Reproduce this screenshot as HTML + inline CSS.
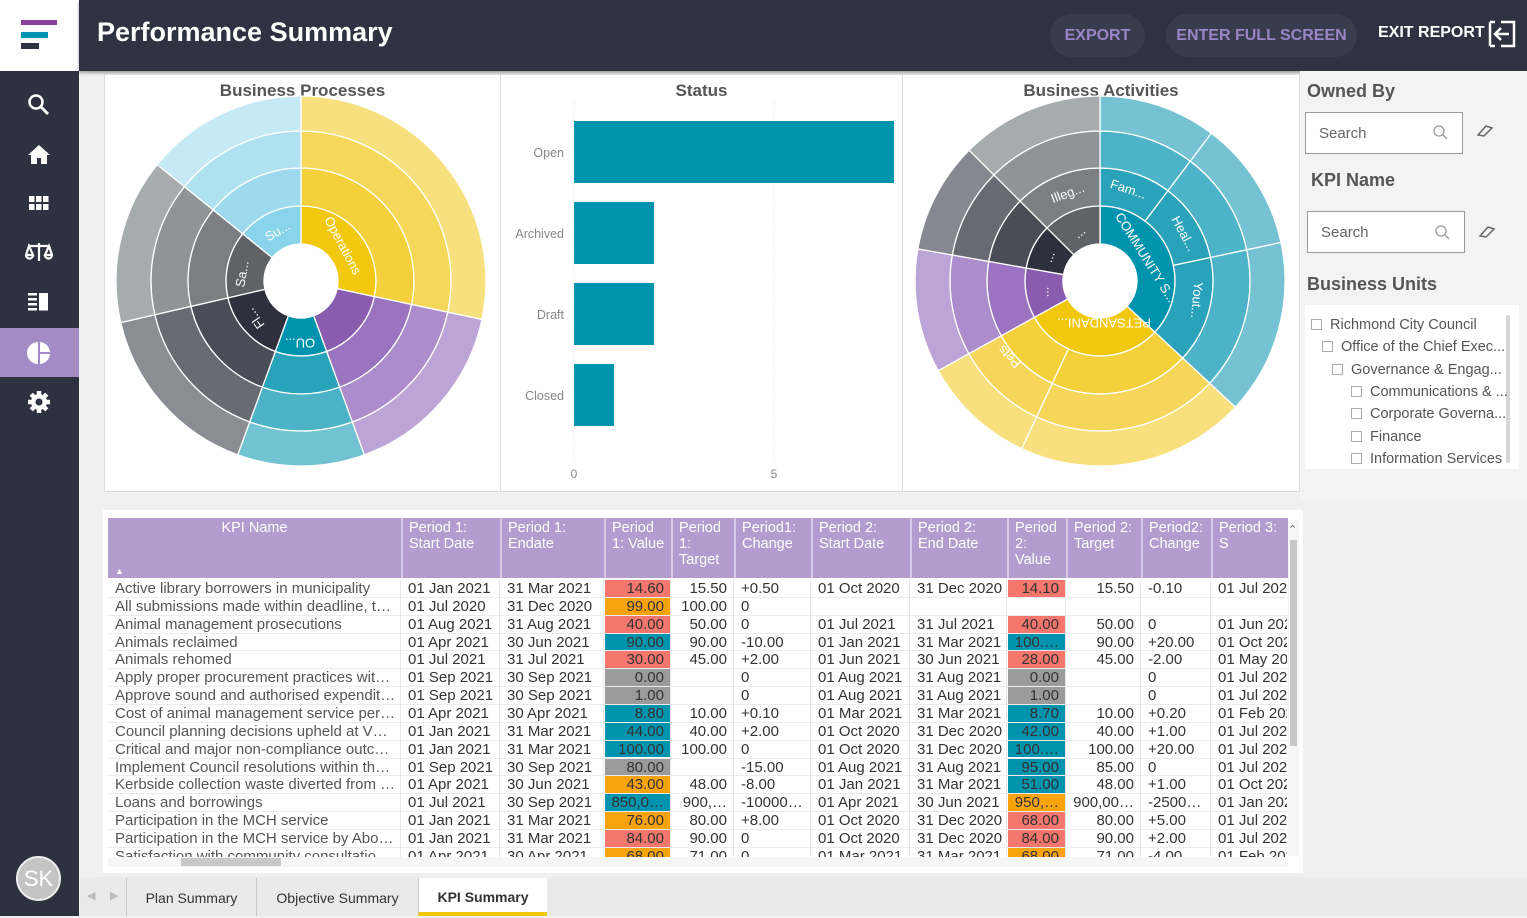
<!DOCTYPE html>
<html><head><meta charset="utf-8">
<style>
*{box-sizing:border-box;margin:0;padding:0}
body{width:1527px;height:916px;overflow:hidden;background:#f0f0f0;font-family:"Liberation Sans",Arial,sans-serif;position:relative}
.abs{position:absolute}
#hdr{left:79px;top:0;width:1448px;height:71px;background:#2f3240;box-shadow:0 2px 3px rgba(0,0,0,.35)}
#logo{left:0;top:0;width:79px;height:71px;background:#fff}
#side{left:0;top:71px;width:79px;height:845px;background:#2e3140}
.pill{position:absolute;top:14px;height:43px;border-radius:22px;background:#393c4d;color:#9a86c6;font-weight:bold;font-size:16px;line-height:43px;text-align:center}
.panel{position:absolute;top:74px;height:418px;background:#fff;border:1px solid #dcdcdc}
.ptitle{position:absolute;top:6px;width:100%;text-align:center;font-weight:bold;font-size:17px;color:#555}
.fh{position:absolute;font-weight:bold;font-size:18px;color:#555}
.sbox{position:absolute;width:158px;height:42px;border:1px solid #999;background:#fff;font-size:15px;color:#666;padding:12px 0 0 13px}
.tree{position:absolute;font-size:14.5px;color:#555;white-space:nowrap}
.cb{display:inline-block;width:11px;height:11px;border:1px solid #aaa;margin-right:8px;vertical-align:-1px}
.cell{position:absolute;font-size:15px;color:#333;white-space:nowrap;overflow:hidden;line-height:17px}
.hc{position:absolute;color:#fff;font-size:14.5px;line-height:16px;padding:2px 0 0 6px}
.tab{position:absolute;top:878px;height:38px;font-size:14px;color:#333;line-height:40px;text-align:center;border-left:1px solid #c8c8c8}
</style></head><body>
<div id="logo" class="abs">
 <div class="abs" style="left:21px;top:20px;width:36px;height:5px;background:#8a3f9a"></div>
 <div class="abs" style="left:21px;top:32px;width:27px;height:6px;background:#0093ae"></div>
 <div class="abs" style="left:21px;top:43px;width:18px;height:6px;background:#2e3140"></div>
</div>
<div id="hdr" class="abs">
 <div class="abs" style="left:18px;top:17px;color:#fff;font-size:27px;font-weight:bold">Performance Summary</div>
 <div class="pill" style="left:971px;width:95px">EXPORT</div>
 <div class="pill" style="left:1087px;width:191px">ENTER FULL SCREEN</div>
 <div class="abs" style="left:1299px;top:24px;color:#fff;font-weight:bold;font-size:16px">EXIT REPORT</div>
 <svg class="abs" style="left:1408px;top:19px" width="30" height="30"><path d="M14 3H27V27H14M3 3V27" fill="none" stroke="#fff" stroke-width="2.5"/><path d="M3 3H8M3 27H8" stroke="#fff" stroke-width="2.5"/><path d="M22 15H8M14 9L8 15L14 21" fill="none" stroke="#fff" stroke-width="2.5"/></svg>
</div>
<div id="side" class="abs">
 <svg class="abs" style="left:27px;top:22px" width="24" height="24"><circle cx="9" cy="9" r="6.5" fill="none" stroke="#fff" stroke-width="2.5"/><path d="M14 14L21 21" stroke="#fff" stroke-width="3"/></svg>
 <svg class="abs" style="left:27px;top:72px" width="24" height="24"><path d="M12 2L1 12H4V21H10V15H14V21H20V12H23Z" fill="#fff"/></svg>
 <svg class="abs" style="left:29px;top:123px" width="22" height="20"><g fill="#fff"><rect x="0" y="2" width="5.5" height="6"/><rect x="7" y="2" width="5.5" height="6"/><rect x="14" y="2" width="5.5" height="6"/><rect x="0" y="10" width="5.5" height="6"/><rect x="7" y="10" width="5.5" height="6"/><rect x="14" y="10" width="5.5" height="6"/></g></svg>
 <svg class="abs" style="left:25px;top:170px" width="28" height="24"><g fill="none" stroke="#fff" stroke-width="2.2"><path d="M14 2V20M4 5H24M4 5L1 14H8ZM24 5L20 14H27Z"/><path d="M1 14A3.5 3.5 0 0 0 8 14M20 14A3.5 3.5 0 0 0 27 14"/></g></svg>
 <svg class="abs" style="left:28px;top:221px" width="22" height="20"><g fill="#fff"><rect x="0" y="1" width="9" height="2.5"/><rect x="0" y="6" width="9" height="2.5"/><rect x="0" y="11" width="9" height="2.5"/><rect x="0" y="16" width="9" height="2.5"/><rect x="11" y="1" width="9" height="17.5"/></g></svg>
 <div class="abs" style="left:0;top:257px;width:79px;height:49px;background:#a38cc6">
  <svg class="abs" style="left:27px;top:13px" width="24" height="24"><path d="M11 1A11 11 0 0 0 11 23Z" fill="#fff"/><path d="M13 1A11 11 0 0 1 23 11H13Z" fill="#fff"/><path d="M13 13H23A11 11 0 0 1 13 23Z" fill="#fff"/></svg>
 </div>
 <svg class="abs" style="left:27px;top:319px" width="24" height="24"><circle cx="12" cy="12" r="8" fill="#fff"/><g stroke="#fff" stroke-width="4.5"><path d="M12 1V23M1 12H23M4.2 4.2L19.8 19.8M19.8 4.2L4.2 19.8"/></g><circle cx="12" cy="12" r="3.5" fill="#2e3140"/></svg>
 <div class="abs" style="left:16px;top:785px;width:45px;height:45px;border-radius:50%;background:#c4c4c4;border:2px solid #eee;color:#fff;font-size:22px;text-align:center;line-height:41px">SK</div>
</div>

<div class="panel" style="left:104px;width:397px">
 <div class="ptitle">Business Processes</div>
</div>
<div class="panel" style="left:500px;width:403px">
 <div class="ptitle">Status</div>
</div>
<div class="panel" style="left:902px;width:398px">
 <div class="ptitle">Business Activities</div>
</div>
<svg id="charts" class="abs" style="left:0;top:0" width="1527" height="500"></svg>

<div class="abs" style="left:1300px;top:71px;width:227px;height:430px;background:#f3f3f3">
 <div class="fh" style="left:7px;top:10px">Owned By</div>
 <div class="sbox" style="left:5px;top:41px">Search</div>
 <div class="fh" style="left:11px;top:99px">KPI Name</div>
 <div class="sbox" style="left:7px;top:140px">Search</div>
 <div class="fh" style="left:7px;top:203px">Business Units</div>
 <div class="abs" style="left:5px;top:234px;width:214px;height:164px;background:#fff"></div>
 <div class="abs" style="left:206px;top:244px;width:4px;height:148px;background:#d6d6d6;border-radius:2px"></div>
 <div class="tree" style="left:11px;top:246px"><span class="cb"></span>Richmond City Council</div>
 <div class="tree" style="left:22px;top:268px"><span class="cb"></span>Office of the Chief Exec...</div>
 <div class="tree" style="left:32px;top:291px"><span class="cb"></span>Governance &amp; Engag...</div>
 <div class="tree" style="left:51px;top:313px"><span class="cb"></span>Communications &amp; ...</div>
 <div class="tree" style="left:51px;top:335px"><span class="cb"></span>Corporate Governa...</div>
 <div class="tree" style="left:51px;top:358px"><span class="cb"></span>Finance</div>
 <div class="tree" style="left:51px;top:380px"><span class="cb"></span>Information Services</div>
</div>
<svg class="abs" style="left:0;top:0" width="1527" height="300" pointer-events="none">
 <g><circle cx="1439" cy="131" r="5" fill="none" stroke="#999" stroke-width="1.3"/><path d="M1443 135L1447 139" stroke="#999" stroke-width="1.3"/></g>
 <g><circle cx="1441" cy="231" r="5" fill="none" stroke="#999" stroke-width="1.3"/><path d="M1445 235L1449 239" stroke="#999" stroke-width="1.3"/></g>
 <path d="M1478 135L1486 126L1492 128L1484 136Z" fill="none" stroke="#666" stroke-width="1.5"/>
 <path d="M1480 236L1488 227L1494 229L1486 237Z" fill="none" stroke="#666" stroke-width="1.5"/>
</svg>

<div class="abs" style="left:103px;top:510px;width:1200px;height:363px;background:#fff"></div>
<div id="tbl" class="abs" style="left:0;top:0;width:1527px;height:860px;overflow:hidden"></div>
<div class="abs" style="left:1288px;top:520px;width:11px;height:336px;background:#f6f6f6"><div class="abs" style="left:2px;top:20px;width:7px;height:206px;background:#c8c8c8"></div></div>
<div class="abs" style="left:1288px;top:523px;font-size:11px;color:#666">&#8963;</div>
<div class="abs" style="left:108px;top:857px;width:1180px;height:10px;background:#f6f6f6"><div class="abs" style="left:73px;top:1px;width:100px;height:8px;background:#c8c8c8"></div></div>

<div class="abs" style="left:80px;top:877px;width:1447px;height:39px;background:#eaeaea"></div>
<div class="abs" style="left:87px;top:889px;color:#bbb;font-size:11px">&#9664;</div>
<div class="abs" style="left:110px;top:889px;color:#bbb;font-size:11px">&#9654;</div>
<div class="tab" style="left:126px;width:130px">Plan Summary</div>
<div class="tab" style="left:256px;width:162px">Objective Summary</div>
<div class="tab" style="left:418px;width:129px;background:#fff;border-bottom:4px solid #f2c80f;font-weight:bold;line-height:38px">KPI Summary</div>

<script>
const NS='http://www.w3.org/2000/svg';
const svg=document.getElementById('charts');
function mk(t,a,p){const e=document.createElementNS(NS,t);for(const k in a)e.setAttribute(k,a[k]);(p||svg).appendChild(e);return e;}

// ---------- Status bar chart data ----------
const statusCats=['Open','Archived','Draft','Closed'];
const statusVals=[8,2,2,1];
const statusTicks=[0,5];
const sx=v=>574+v*40;
const sy=i=>121+i*81;
statusTicks.forEach(t=>{
 const l=mk('line',{x1:sx(t),x2:sx(t),y1:100,y2:462,stroke:'#e4e4e4','stroke-dasharray':'1,2'});
 
 
 const tx=mk('text',{x:sx(t),y:478,'text-anchor':'middle','font-size':12,fill:'#888'});
 tx.textContent=t;
 
 
});
statusCats.forEach((c,i)=>{
 const r=mk('rect',{x:sx(0),y:sy(i),width:sx(statusVals[i])-sx(0),height:62,fill:'#0093ae'});
 
 
 const t=mk('text',{x:564,y:sy(i)+36,'text-anchor':'end','font-size':12.5,fill:'#888'});
 t.textContent=c;
 
 
});

// ---------- Sunburst data ----------
const radii=[37,75,113,150,185];
const bpGroups=['Operations','OU','Teal','Fl','Sa','Su'];
const bpAngles=[102,58,40,57,52,51];
const bpPalettes=[
 ['#f2c80f','#f4d03c','#f5d85a','#f7e07e'],
 ['#8a5cb0','#9b74bf','#ac8ccb','#bca4d6'],
 ['#0093ae','#28a3ba','#4cb3c7','#72c3d2'],
 ['#2e313d','#4a4d57','#686b73','#8a8d93'],
 ['#5f6368','#7a7f83','#8f9597','#a6abad'],
 ['#8ad4eb','#9ddaee','#b0e1f1','#c5e9f5']];
const baGroups=['Community','Pets','Purple','Dark'];
const baSplits=[[37,41,55],[72,36],[39],[35,45]];
const baPalettes=[
 ['#0093ae','#2aa3ba','#4db3c8','#74c2d2'],
 ['#f2c80f','#f4d03a','#f5d65a','#f7e07d'],
 ['#8a5cb0','#9b73c0','#ac8ccb','#bda4d6'],
 ['#2e313d','#4a4d56','#676a72','#858890']];
const baDarkAlt=['#5f6368','#7a7f82','#8e9497','#a6abad'];

function arc(cx,cy,r0,r1,a0,a1){
 const p=(r,a)=>[cx+r*Math.sin(a*Math.PI/180),cy-r*Math.cos(a*Math.PI/180)];
 const L=(a1-a0)>180?1:0;
 const [x0,y0]=p(r1,a0),[x1,y1]=p(r1,a1),[x2,y2]=p(r0,a1),[x3,y3]=p(r0,a0);
 return `M${x0} ${y0}A${r1} ${r1} 0 ${L} 1 ${x1} ${y1}L${x2} ${y2}A${r0} ${r0} 0 ${L} 0 ${x3} ${y3}Z`;
}
// Business Processes
let a=0;
bpGroups.forEach((g,gi)=>{
 for(let ring=0;ring<4;ring++){
  const s=mk('path',{d:arc(301,281,radii[ring],radii[ring+1],a,a+bpAngles[gi]),fill:bpPalettes[gi][ring],stroke:'#fff','stroke-width':1.3});
  
  
 }
 a+=bpAngles[gi];
});
// Business Activities
a=0;
baGroups.forEach((g,gi)=>{
 const tot=baSplits[gi].reduce((x,y)=>x+y,0);
 for(let ring=0;ring<4;ring++){
  if(ring===0){
   const s=mk('path',{d:arc(1100,281,radii[0],radii[1],a,a+tot),fill:baPalettes[gi][0],stroke:'#fff','stroke-width':1.3});
   
   
  } else {
   let b=a;
   baSplits[gi].forEach((v,si)=>{
    const col=(gi===3&&si===1)?baDarkAlt[ring]:baPalettes[gi][ring];
    const s=mk('path',{d:arc(1100,281,radii[ring],radii[ring+1],b,b+v),fill:col,stroke:'#fff','stroke-width':1.3});
    
    
    b+=v;
   });
  }
 }
 a+=tot;
});
// Dark group inner split color
(function(){const s=mk('path',{d:arc(1100,281,radii[0],radii[1],315,360),fill:'#5f6368',stroke:'#fff','stroke-width':1.3});
 
 })();

const sbLabels=[
 ['Operations',342,246,62],['Su...',278,232,-30],['Sa...',243,274,-80],['Fl...',256,318,-125],['OU...',300,342,180],
 ['Fam...',1128,190,18],['Heal...',1183,234,62],['Yout...',1196,300,95],['COMMUNITY S...',1145,258,58],
 ['PETSANDANI...',1104,322,180],['Pets',1010,356,225],['Illeg...',1068,194,-20],['...',1080,233,-40],['...',1050,257,-70],['...',1045,292,-90]];
sbLabels.forEach(l=>{
 const t=mk('text',{x:l[1],y:l[2],'font-size':13,fill:'#fff','text-anchor':'middle','dominant-baseline':'middle',transform:`rotate(${l[3]} ${l[1]} ${l[2]})`});
 t.textContent=l[0];
 
 
});

// ---------- Table ----------
const colX=[108,401,500,604,671,734,811,910,1007,1066,1141,1211,1288];
const headers=['KPI Name','Period 1:<br>Start Date','Period 1:<br>Endate','Period<br>1: Value','Period<br>1:<br>Target','Period1:<br>Change','Period 2:<br>Start Date','Period 2:<br>End Date','Period<br>2:<br>Value','Period 2:<br>Target','Period2:<br>Change','Period 3: S'];
const kpiNames=['Active library borrowers in municipality','All submissions made within deadline, t…','Animal management prosecutions','Animals reclaimed','Animals rehomed','Apply proper procurement practices wit…','Approve sound and authorised expendit…','Cost of animal management service per…','Council planning decisions upheld at V…','Critical and major non-compliance outc…','Implement Council resolutions within th…','Kerbside collection waste diverted from …','Loans and borrowings','Participation in the MCH service','Participation in the MCH service by Abo…','Satisfaction with community consultatio…'];
const p1Start=['01 Jan 2021','01 Jul 2020','01 Aug 2021','01 Apr 2021','01 Jul 2021','01 Sep 2021','01 Sep 2021','01 Apr 2021','01 Jan 2021','01 Jan 2021','01 Sep 2021','01 Apr 2021','01 Jul 2021','01 Jan 2021','01 Jan 2021','01 Apr 2021'];
const p1End=['31 Mar 2021','31 Dec 2020','31 Aug 2021','30 Jun 2021','31 Jul 2021','30 Sep 2021','30 Sep 2021','30 Apr 2021','31 Mar 2021','31 Mar 2021','30 Sep 2021','30 Jun 2021','30 Sep 2021','31 Mar 2021','31 Mar 2021','30 Apr 2021'];
const p1Value=['14.60','99.00','40.00','90.00','30.00','0.00','1.00','8.80','44.00','100.00','80.00','43.00','850,0…','76.00','84.00','68.00'];
const p1Status=['r','o','r','t','r','g','g','t','t','t','g','o','t','o','r','o'];
const p1Target=['15.50','100.00','50.00','90.00','45.00','','','10.00','40.00','100.00','','48.00','900,…','80.00','90.00','71.00'];
const p1Change=['+0.50','0','0','-10.00','+2.00','0','0','+0.10','+2.00','0','-15.00','-8.00','-10000…','+8.00','0','0'];
const p2Start=['01 Oct 2020','','01 Jul 2021','01 Jan 2021','01 Jun 2021','01 Aug 2021','01 Aug 2021','01 Mar 2021','01 Oct 2020','01 Oct 2020','01 Aug 2021','01 Jan 2021','01 Apr 2021','01 Oct 2020','01 Oct 2020','01 Mar 2021'];
const p2End=['31 Dec 2020','','31 Jul 2021','31 Mar 2021','30 Jun 2021','31 Aug 2021','31 Aug 2021','31 Mar 2021','31 Dec 2020','31 Dec 2020','31 Aug 2021','31 Mar 2021','30 Jun 2021','31 Dec 2020','31 Dec 2020','31 Mar 2021'];
const p2Value=['14.10','','40.00','100.…','28.00','0.00','1.00','8.70','42.00','100.…','95.00','51.00','950,…','68.00','84.00','68.00'];
const p2Status=['r','','r','t','r','g','g','t','t','t','t','t','o','r','r','o'];
const p2Target=['15.50','','50.00','90.00','45.00','','','10.00','40.00','100.00','85.00','48.00','900,00…','80.00','90.00','71.00'];
const p2Change=['-0.10','','0','+20.00','-2.00','0','0','+0.20','+1.00','+20.00','0','+1.00','-2500…','+5.00','+2.00','-4.00'];
const p3Start=['01 Jul 2020','','01 Jun 2021','01 Oct 2020','01 May 2021','01 Jul 2021','01 Jul 2021','01 Feb 2021','01 Jul 2020','01 Jul 2020','01 Jul 2021','01 Oct 2020','01 Jan 2021','01 Jul 2020','01 Jul 2020','01 Feb 2021'];
const statusColor={r:'#f4766c',o:'#f8a30b',t:'#0093ae',g:'#9b9b9b'};

const tbl=document.getElementById('tbl');
const hb=document.createElement('div');
hb.className='abs';hb.style.cssText='left:108px;top:518px;width:1180px;height:60px;background:#b39dcf';


tbl.appendChild(hb);
headers.forEach((h,i)=>{
 const d=document.createElement('div');d.className='hc';
 d.style.left=colX[i]+'px';d.style.top='518px';d.style.width=(colX[i+1]-colX[i])+'px';d.style.height='60px';
 d.style.borderLeft=i?'2px solid #d6cbe6':'none';d.style.overflow='hidden';
 if(i===0){d.style.textAlign='center';d.style.paddingLeft='0';}
 d.innerHTML=h;
 
 
 tbl.appendChild(d);
});
const arrow=document.createElement('div');arrow.className='abs';arrow.style.cssText='left:115px;top:566px;color:#fff;font-size:9px';arrow.textContent='▲';


tbl.appendChild(arrow);

const cols=[kpiNames,p1Start,p1End,p1Value,p1Target,p1Change,p2Start,p2End,p2Value,p2Target,p2Change,p3Start];
const rightAlign=[3,4,8,9];
const rowH=17.85;
kpiNames.forEach((n,r)=>{
 const top=580+r*rowH;
 const line=document.createElement('div');line.className='abs';
 line.style.cssText=`left:108px;top:${top+rowH-1}px;width:1180px;height:1px;background:#ececec`;
 tbl.appendChild(line);
 cols.forEach((col,c)=>{
  const d=document.createElement('div');d.className='cell';
  const w=colX[c+1]-colX[c];
  d.style.left=(colX[c]+1)+'px';d.style.top=(top)+'px';d.style.width=(w-2)+'px';d.style.height=(rowH-1)+'px';
  d.style.padding=rightAlign.includes(c)?'0 6px 0 0':'0 0 0 6px';
  if(rightAlign.includes(c))d.style.textAlign='right';
  if(c===3&&p1Status[r]){d.style.background=statusColor[p1Status[r]];}
  if(c===8&&p2Status[r]){d.style.background=statusColor[p2Status[r]];}
  if(c===0)d.style.color='#555';
  d.textContent=col[r];
  
  
  tbl.appendChild(d);
 });
});
colX.slice(1,-1).forEach(x=>{
 const v=document.createElement('div');v.className='abs';
 v.style.cssText=`left:${x-1}px;top:580px;width:1px;height:280px;background:#e6e6e6`;
 tbl.appendChild(v);
});
</script>
</body></html>
